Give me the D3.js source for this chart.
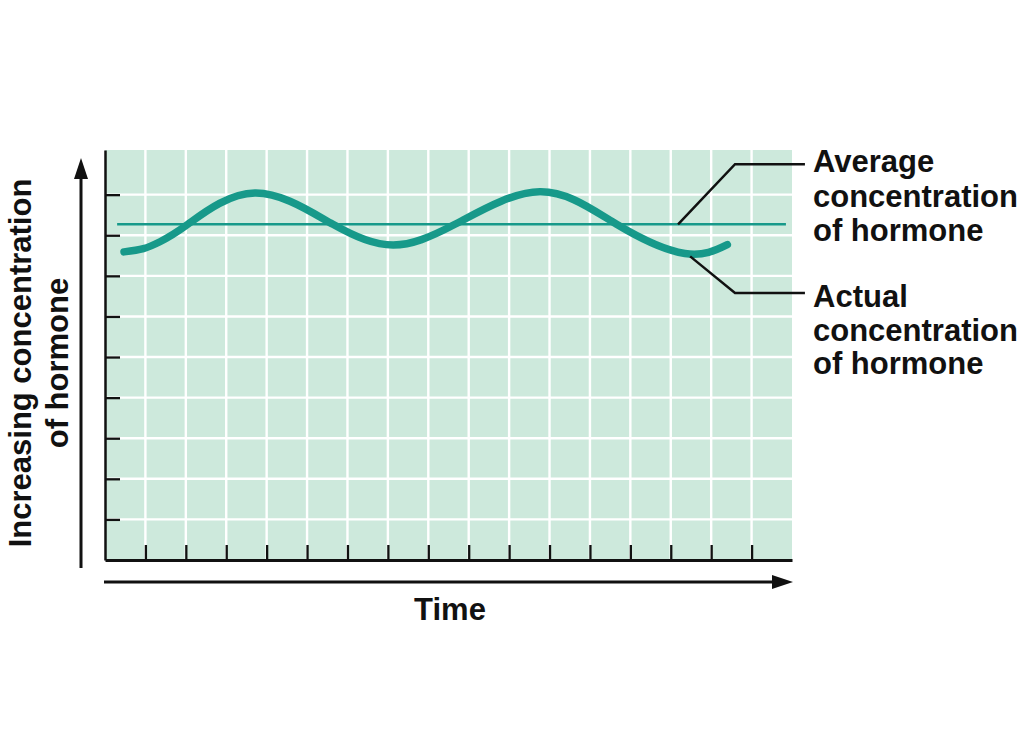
<!DOCTYPE html>
<html>
<head>
<meta charset="utf-8">
<script src="https://cdn.jsdelivr.net/npm/d3@7"></script>
<style>
  html, body { margin: 0; padding: 0; background: #ffffff; }
  svg { display: block; }
  text { font-family: "Liberation Sans", Arial, Helvetica, sans-serif; font-weight: bold; fill: #111; }
</style>
</head>
<body>
<svg id="chart" width="1024" height="748"></svg>
<script>
// ---- data (time units / concentration units) ----
const timeTicks = d3.range(1, 17);          // 16 time ticks
const concTicks = d3.range(1, 10);          // 9 concentration ticks
const actualTime = [0.47, 0.95, 1.36, 2.05, 3.71, 5.64, 7.13, 8.66, 10.76, 12.66, 14.35, 15.40];
const actualConc = [7.59, 7.67, 7.84, 8.27, 9.04, 8.27, 7.76, 8.27, 9.07, 8.27, 7.55, 7.77];
const averageTime = [0.30, 16.85];
const averageConc = [8.27, 8.27];
const avgLeaderTime = [14.18, 15.59, 17.32];
const avgLeaderConc = [8.27, 9.75, 9.75];
const actLeaderTime = [14.48, 15.59, 17.32];
const actLeaderConc = [7.48, 6.58, 6.58];
const avgLabel = ["Average", "concentration", "of hormone"];
const actLabel = ["Actual", "concentration", "of hormone"];
const yLabel = ["Increasing concentration", "of hormone"];
const xLabel = "Time";

// ---- layout ----
const svg = d3.select("#chart");
const x = d3.scaleLinear().domain([0, 17]).range([105, 792]);
const y = d3.scaleLinear().domain([0, 10.1]).range([560, 150]);
const teal = "#17998a";

// plot background
svg.append("rect")
  .attr("x", x(0)).attr("y", y(10.1))
  .attr("width", x(17) - x(0)).attr("height", y(0) - y(10.1))
  .attr("fill", "#cde9dc");

// white grid
svg.append("g").selectAll("line").data(timeTicks).join("line")
  .attr("x1", d => x(d)).attr("x2", d => x(d))
  .attr("y1", y(0)).attr("y2", y(10.1))
  .attr("stroke", "#ffffff").attr("stroke-width", 2.4);
svg.append("g").selectAll("line").data(concTicks).join("line")
  .attr("x1", x(0)).attr("x2", x(17))
  .attr("y1", d => y(d)).attr("y2", d => y(d))
  .attr("stroke", "#ffffff").attr("stroke-width", 2.4);

// axes
const xAxis = svg.append("g").attr("transform", `translate(0,${y(0)})`)
  .call(d3.axisTop(x).tickValues(timeTicks).tickSizeInner(15).tickSizeOuter(0).tickFormat(""));
const yAxis = svg.append("g").attr("transform", `translate(${x(0)},0)`)
  .call(d3.axisRight(y).tickValues(concTicks).tickSizeInner(15).tickSizeOuter(0).tickFormat(""));
xAxis.select(".domain").attr("stroke", "#111").attr("stroke-width", 3);
yAxis.select(".domain").attr("stroke", "#111").attr("stroke-width", 2.5);
svg.selectAll(".tick line").attr("stroke", "#111").attr("stroke-width", 2.3);

// average line
const line = d3.line().x(d => x(d[0])).y(d => y(d[1]));
svg.append("path")
  .attr("d", line(d3.zip(averageTime, averageConc)))
  .attr("fill", "none").attr("stroke", teal).attr("stroke-width", 2.6);

// actual curve
svg.append("path")
  .attr("d", d3.line().x(d => x(d[0])).y(d => y(d[1])).curve(d3.curveNatural)(d3.zip(actualTime, actualConc)))
  .attr("fill", "none").attr("stroke", teal).attr("stroke-width", 7.5)
  .attr("stroke-linecap", "round");

// leader lines
[[avgLeaderTime, avgLeaderConc], [actLeaderTime, actLeaderConc]].forEach(([t, c]) => {
  svg.append("path")
    .attr("d", line(d3.zip(t, c)))
    .attr("fill", "none").attr("stroke", "#111").attr("stroke-width", 2.5);
});

// annotation texts
const fs = 31;
svg.append("text").attr("font-size", fs)
  .selectAll("tspan").data(avgLabel).join("tspan")
  .attr("x", 813).attr("y", (d, i) => 172 + i * 34.5).text(d => d);
svg.append("text").attr("font-size", fs)
  .selectAll("tspan").data(actLabel).join("tspan")
  .attr("x", 813).attr("y", (d, i) => 307 + i * 33.5).text(d => d);

// axis arrows
svg.append("line").attr("x1", 81).attr("x2", 81).attr("y1", 568).attr("y2", 176)
  .attr("stroke", "#111").attr("stroke-width", 3);
svg.append("path").attr("d", "M81,158 L74,179 L88,179 Z").attr("fill", "#111");
svg.append("line").attr("x1", 104).attr("x2", 775).attr("y1", 582).attr("y2", 582)
  .attr("stroke", "#111").attr("stroke-width", 3);
svg.append("path").attr("d", "M793,582 L772,575 L772,589 Z").attr("fill", "#111");

// axis titles
svg.append("text").attr("font-size", fs).attr("text-anchor", "middle")
  .attr("x", 450).attr("y", 620).text(xLabel);
svg.append("text").attr("font-size", fs).attr("text-anchor", "middle")
  .attr("transform", "translate(31,363) rotate(-90)")
  .selectAll("tspan").data(yLabel).join("tspan")
  .attr("x", 0).attr("dy", (d, i) => i === 0 ? 0 : 37).text(d => d);
</script>
</body>
</html>
